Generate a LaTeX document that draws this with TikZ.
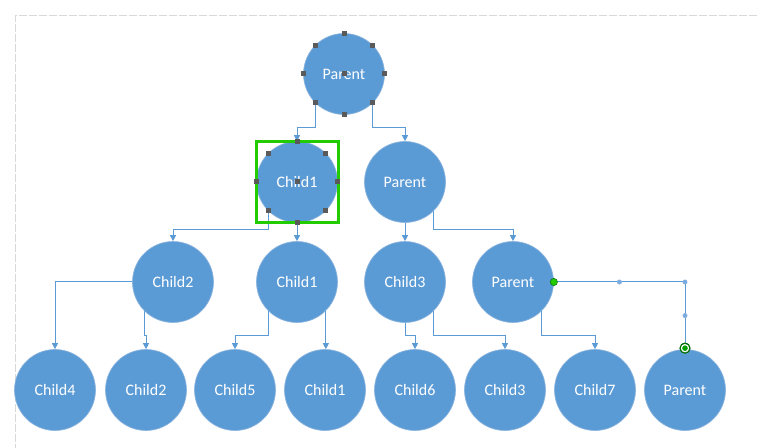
\documentclass[tikz,border=0pt]{standalone}
\usepackage{fontspec}
\setmainfont{Carlito}
\usetikzlibrary{arrows.meta}
\definecolor{nodeblue}{RGB}{91,155,213}
\definecolor{nodeedge}{RGB}{140,180,222}
\definecolor{edgeblue}{RGB}{91,155,213}
\definecolor{handlegray}{RGB}{90,90,90}
\definecolor{selgreen}{RGB}{34,204,0}
\definecolor{darkgreen}{RGB}{0,110,0}
\definecolor{midgreen}{RGB}{0,160,0}
\definecolor{borderdash}{RGB}{217,217,217}
\definecolor{handleblue}{RGB}{120,170,225}
\begin{document}
\begin{tikzpicture}[x=0.75pt,y=-0.75pt,
  bubble/.style={circle, fill=nodeblue, draw=nodeedge, line width=0.5pt,
    minimum size=60.75pt, inner sep=0pt, text=white,
    font=\fontsize{12}{14}\selectfont},
  conn/.style={draw=edgeblue, line width=0.75pt,
    -{Triangle[width=4.5pt,length=4.5pt]}},
  sel/.style={draw=selgreen, line width=2.25pt},
  bluehandle/.style={fill=handleblue, draw=nodeedge, line width=0.4pt}
]
\useasboundingbox (0,0) rectangle (757,448);
\draw[borderdash, line width=0.75pt, dash pattern=on 6pt off 1.5pt]
  (757,16) -- (15,16) -- (15,448);

% nodes
\node[bubble] (p0) at (344,74) {Parent};
\node[bubble] (c1) at (297,182) {Child1};
\node[bubble] (p1) at (405,182) {Parent};
\node[bubble] (r2) at (173,282) {Child2};
\node[bubble] (r1) at (297,282) {Child1};
\node[bubble] (r3) at (405,282) {Child3};
\node[bubble] (rp) at (513,282) {Parent};
\node[bubble] (b4) at (55,390) {Child4};
\node[bubble] (b2) at (146,390) {Child2};
\node[bubble] (b5) at (235,390) {Child5};
\node[bubble] (b1) at (325,390) {Child1};
\node[bubble] (b6) at (415,390) {Child6};
\node[bubble] (b3) at (505,390) {Child3};
\node[bubble] (b7) at (595,390) {Child7};
\node[bubble] (bp) at (685,390) {Parent};

% connectors
\draw[conn] (p0.225) -- (p0.225 |- 0,128) -| (c1.north);
\draw[conn] (p0.315) -- (p0.315 |- 0,128) -| (p1.north);
\draw[conn] (c1.225) -- (c1.225 |- 0,230) -| (r2.north);
\draw[conn] (c1.south) -- (r1.north);
\draw[conn] (p1.south) -- (r3.north);
\draw[conn] (p1.315) -- (p1.315 |- 0,230) -| (rp.north);
\draw[conn] (r2.west) -| (b4.north);
\draw[conn] (r2.225) -- (r2.225 |- 0,336) -| (b2.north);
\draw[conn] (r1.225) -- (r1.225 |- 0,336) -| (b5.north);
\draw[conn] (r1.315) -- (r1.315 |- b1.north);
\draw[conn] (r3.south) -- (r3.south |- 0,336) -| (b6.north);
\draw[conn] (r3.315) -- (r3.315 |- 0,336) -| (b3.north);
\draw[conn] (rp.315) -- (rp.315 |- 0,336) -| (b7.north);
\draw[conn] (rp.east) -| coordinate[pos=0.5] (corner) (bp.north);

% selection of the top Parent
\foreach \a in {0,45,...,315}
  \fill[handlegray] (p0.\a) ++(-2.5,-2.5) rectangle ++(5,5);
\fill[handlegray] (p0.center) ++(-2.5,-2.5) rectangle ++(5,5);

% selection of Child1
\draw[sel] (256,142) rectangle (338,223);
\foreach \a in {0,45,...,315}
  \fill[handlegray] (c1.\a) ++(-2.5,-2.5) rectangle ++(5,5);
\fill[handlegray] (c1.center) ++(-2.5,-2.5) rectangle ++(5,5);

% selected connector handles
\path (rp.east) -- coordinate[pos=0.5] (hmid) (corner);
\path (corner) -- coordinate[pos=0.5] (vmid) (bp.north);
\filldraw[bluehandle] (hmid) circle[radius=2.2];
\filldraw[bluehandle] (corner) circle[radius=2.2];
\filldraw[bluehandle] (vmid) circle[radius=2.2];
\filldraw[fill=selgreen, draw=darkgreen, line width=0.4pt] (rp.east) circle[radius=3.6];
\filldraw[fill=white, draw=darkgreen, line width=0.9pt] (bp.north) ++(0,-1) circle[radius=5];
\fill[midgreen] (bp.north) ++(0,-1) circle[radius=2.8];
\end{tikzpicture}
\end{document}
